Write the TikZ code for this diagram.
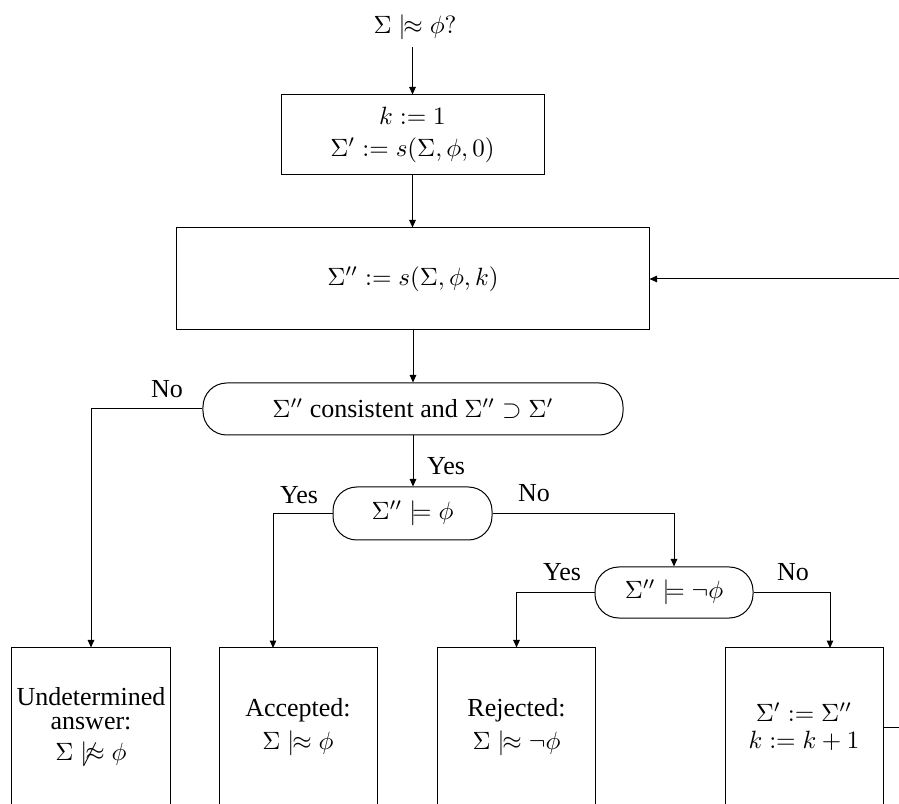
\documentclass[tikz,border=0pt]{standalone}
\usepackage[no-math]{fontspec}
\setmainfont{Liberation Serif}
\usetikzlibrary{arrows.meta}
\newcommand{\snake}{\mathrel{|\mkern-6.5mu\approx}}
\newcommand{\notsnake}{\not\snake}
\tikzset{
  txt/.style={font=\fontsize{10.4pt}{12.5pt}\selectfont},
  box/.style={draw, rectangle, inner sep=0pt, align=center},
  decision/.style={draw, rectangle, rounded corners=9.5pt, inner sep=0pt, align=center},
  lbl/.style={inner sep=0pt, txt},
  arr/.style={-{Triangle[length=3pt,width=2.6pt]}},
}
\begin{document}
\begin{tikzpicture}[x=0.4pt,y=-0.4pt]
\useasboundingbox (0,0) rectangle (899,804);
\clip (0,0) rectangle (899,804);

\node[inner sep=3pt] (q) at (415,27) {$\Sigma \snake \phi?$};
\node[box, minimum width=105.2pt, minimum height=32pt] (b1) at (412.5,135)
  {$k := 1$\\[1pt]$\Sigma' := s(\Sigma,\phi,0)$};
\node[box, minimum width=188.8pt, minimum height=40.8pt] (b2) at (413,279)
  {$\Sigma'' := s(\Sigma,\phi,k)$};
\node[decision, txt, minimum width=168pt, minimum height=20.8pt] (d1) at (413,409)
  {$\Sigma''$ consistent and $\Sigma'' \supset \Sigma'$};
\node[decision, minimum width=63.6pt, minimum height=21.2pt] (d2) at (412.5,513.5)
  {$\Sigma'' \models \phi$};
\node[decision, minimum width=63.2pt, minimum height=20.4pt] (d3) at (674,592.5)
  {$\Sigma'' \models \neg\phi$};

\node[box, txt, minimum width=63.2pt, minimum height=63.2pt] (e1) at (91,727)
  {Undetermined\\[-2.8pt]answer:\\[0pt]$\Sigma \notsnake \phi$};
\node[box, txt, minimum width=63.2pt, minimum height=63.2pt] (e2) at (298,727)
  {Accepted:\\[1pt]$\Sigma \snake \phi$};
\node[box, txt, minimum width=63.2pt, minimum height=63.2pt] (e3) at (516.5,727)
  {Rejected:\\[1pt]$\Sigma \snake \neg\phi$};
\node[box, minimum width=63.2pt, minimum height=63.2pt] (e4) at (804,727)
  {$\Sigma' := \Sigma''$\\[-1.2pt]$k := k+1$};

\coordinate (e2in) at (273,648);
\coordinate (e4in) at (830,648);
\coordinate (lp1) at (940,727);
\coordinate (lp2) at (940,279);

\node[lbl] (no1) at (167,389) {No};
\node[lbl] (yes1) at (446,466) {Yes};
\node[lbl] (yes2) at (299,495) {Yes};
\node[lbl] (no2) at (534,493) {No};
\node[lbl] (yes3) at (562,572) {Yes};
\node[lbl] (no3) at (793,572) {No};

\draw[arr] (q.south -| b1.north) -- (b1.north);
\draw[arr] (b1.south) -- (b1.south |- b2.north);
\draw[arr] (b2.south) -- (b2.south |- d1.north);
\draw[arr] (d1.west) -| (e1.north);
\draw[arr] (d1.south) -- (d1.south |- d2.north);
\draw[arr] (d2.west) -| (e2in);
\draw[arr] (d2.east) -| (d3.north);
\draw[arr] (d3.west) -| (e3.north);
\draw[arr] (d3.east) -| (e4in);
\draw[arr] (e4.east) -- (lp1) -- (lp2) -- (b2.east);
\end{tikzpicture}
\end{document}
